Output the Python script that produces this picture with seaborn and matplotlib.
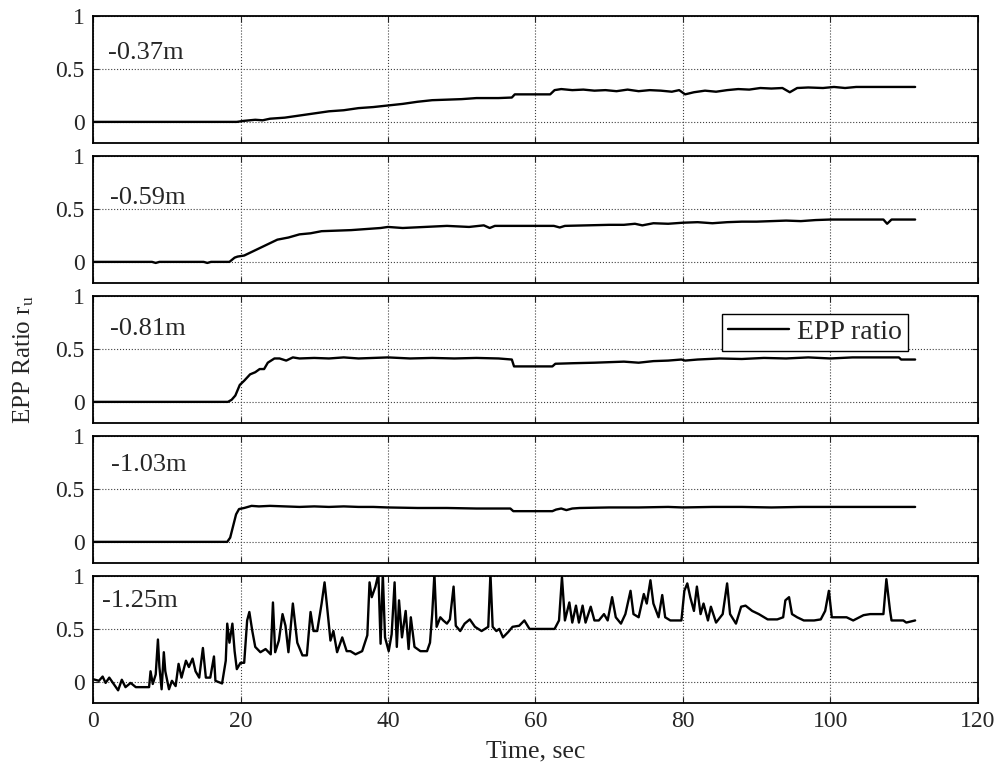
import matplotlib
matplotlib.use("Agg")
import matplotlib.pyplot as plt
import pandas as pd
import seaborn as sns

# ==========================================
# Data
# ==========================================

depths = ["-0.37m", "-0.59m", "-0.81m", "-1.03m", "-1.25m"]

time_037 = [0, 19.5, 20.5, 22, 23, 24, 26, 28, 30, 32,
            34, 36, 38, 40, 42, 44, 46, 48, 50, 52,
            55, 56.8, 57.2, 60, 62.0, 62.6, 63.5, 65, 66.5, 68,
            69.5, 71, 72.5, 74, 75.5, 77, 78.5, 79.5, 80.3, 81.5,
            83, 84.5, 86, 87.5, 89, 90.5, 92, 93.5, 94.5, 95.5,
            97, 99, 100.5, 102, 103.5, 105, 111.5]
epp_037 = [0, 0, 0.01, 0.02, 0.015, 0.03, 0.04, 0.06, 0.08, 0.10,
           0.11, 0.13, 0.14, 0.155, 0.17, 0.19, 0.205, 0.21, 0.215, 0.225,
           0.225, 0.23, 0.26, 0.26, 0.26, 0.30, 0.31, 0.30, 0.305, 0.295,
           0.30, 0.29, 0.305, 0.29, 0.30, 0.295, 0.285, 0.30, 0.26, 0.28,
           0.295, 0.285, 0.30, 0.31, 0.305, 0.32, 0.315, 0.32, 0.28, 0.32,
           0.325, 0.32, 0.33, 0.32, 0.33, 0.33, 0.33]

time_059 = [0, 8, 8.5, 9, 15, 15.5, 16, 18.5, 19.2, 19.6,
            20.5, 22, 23.5, 25, 26.5, 28, 29.5, 31, 33, 35,
            37, 39, 40, 42, 45, 48, 51, 53, 53.8, 54.5,
            58, 62.5, 63.3, 64, 67, 70, 72, 73.5, 74.5, 76,
            78, 80, 82, 84, 86, 88, 90, 92, 94, 96,
            98, 100, 103, 107.2, 107.7, 108.3, 111.5]
epp_059 = [0, 0, -0.01, 0, 0, -0.01, 0, 0, 0.04, 0.05,
           0.06, 0.11, 0.16, 0.21, 0.23, 0.26, 0.27, 0.29, 0.295, 0.30,
           0.31, 0.32, 0.33, 0.32, 0.33, 0.34, 0.33, 0.345, 0.32, 0.34,
           0.34, 0.34, 0.325, 0.34, 0.345, 0.35, 0.35, 0.36, 0.345, 0.365,
           0.36, 0.37, 0.375, 0.365, 0.375, 0.38, 0.38, 0.385, 0.39, 0.385,
           0.395, 0.40, 0.40, 0.40, 0.36, 0.40, 0.40]

time_081 = [0, 18.3, 18.8, 19.3, 19.9, 20.5, 21.3, 22.0, 22.6, 23.2,
            23.7, 24.6, 25.3, 26.2, 27.1, 28, 30, 32, 34, 36,
            38, 40, 43, 46, 49, 52, 55, 56.8, 57.1, 62.3,
            62.7, 65, 68, 70, 72, 74, 76, 78, 79.8, 80.3,
            82, 85, 88, 91, 94, 97, 100, 103, 106, 109.3,
            109.6, 111.5]
epp_081 = [0, 0, 0.02, 0.06, 0.16, 0.20, 0.26, 0.28, 0.31, 0.31,
           0.37, 0.41, 0.41, 0.39, 0.42, 0.41, 0.415, 0.41, 0.42, 0.41,
           0.415, 0.42, 0.41, 0.415, 0.41, 0.415, 0.41, 0.40, 0.335, 0.335,
           0.36, 0.365, 0.37, 0.375, 0.38, 0.37, 0.385, 0.39, 0.40, 0.39,
           0.40, 0.41, 0.405, 0.415, 0.41, 0.42, 0.41, 0.42, 0.42, 0.42,
           0.40, 0.40]

time_103 = [0, 18.2, 18.6, 19.0, 19.4, 19.8, 20.5, 21.5, 22.5, 24,
            26, 28, 30, 32, 34, 36, 38, 40, 44, 48,
            52, 56.6, 57.0, 62.3, 62.8, 63.5, 64.2, 65, 66, 70,
            74, 78, 80, 84, 88, 92, 96, 100, 104, 111.5]
epp_103 = [0, 0, 0.04, 0.15, 0.26, 0.31, 0.32, 0.34, 0.335, 0.34,
           0.335, 0.33, 0.335, 0.33, 0.335, 0.33, 0.33, 0.325, 0.32, 0.32,
           0.315, 0.315, 0.29, 0.29, 0.305, 0.315, 0.30, 0.315, 0.32, 0.325,
           0.325, 0.33, 0.325, 0.33, 0.33, 0.325, 0.33, 0.33, 0.33, 0.33]

time_125 = [0, 0.8, 1.3, 1.7, 2.2, 2.8, 3.4, 3.9, 4.4, 5.1,
            5.8, 7.6, 7.8, 8.1, 8.5, 8.8, 9.0, 9.3, 9.6, 9.8,
            10.3, 10.7, 11.2, 11.6, 12.0, 12.6, 13.0, 13.5, 13.9, 14.4,
            14.9, 15.3, 15.9, 16.4, 16.6, 17.5, 18.0, 18.2, 18.5, 18.9,
            19.2, 19.5, 20.0, 20.5, 20.9, 21.2, 21.6, 22.0, 22.7, 23.4,
            24.1, 24.4, 24.7, 25.2, 25.7, 26.1, 26.5, 27.1, 27.7, 28.4,
            29.0, 29.5, 29.9, 30.4, 31.0, 31.4, 31.7, 32.2, 32.6, 33.1,
            33.8, 34.4, 34.9, 35.6, 36.5, 37.2, 37.5, 37.8, 38.3, 38.7,
            39.0, 39.3, 39.6, 40.1, 40.5, 40.9, 41.2, 41.5, 41.9, 42.4,
            42.8, 43.1, 43.6, 44.4, 45.3, 45.7, 46.0, 46.3, 46.6, 47.1,
            47.5, 48.0, 48.4, 48.9, 49.2, 49.8, 50.4, 51.1, 51.8, 52.7,
            53.6, 53.9, 54.2, 54.7, 55.1, 55.6, 56.3, 56.9, 57.8, 58.5,
            59.2, 59.9, 62.6, 63.2, 63.6, 64.0, 64.6, 65.0, 65.5, 65.9,
            66.4, 66.8, 67.5, 68.0, 68.6, 69.3, 69.8, 70.4, 70.9, 71.6,
            72.2, 72.9, 73.3, 74.0, 74.7, 75.1, 75.6, 76.0, 76.7, 77.2,
            77.6, 78.3, 79.0, 79.8, 80.2, 80.6, 81.0, 81.5, 81.9, 82.4,
            82.8, 83.4, 83.8, 84.5, 85.4, 86.0, 86.4, 87.2, 87.9, 88.5,
            89.4, 90.3, 91.5, 92.8, 93.6, 93.9, 94.4, 94.8, 95.5, 96.4,
            97.8, 98.7, 99.3, 99.8, 100.2, 100.9, 102.2, 103.1, 104.5, 105.4,
            107.2, 107.6, 108.1, 108.3, 109.9, 110.3, 111.5]
epp_125 = [0.025, 0.01, 0.05, -0.01, 0.04, -0.02, -0.08, 0.02, -0.05, -0.01,
           -0.05, -0.05, 0.10, -0.02, 0.07, 0.40, 0.14, -0.07, 0.28, 0.10,
           -0.07, 0.01, -0.04, 0.17, 0.04, 0.20, 0.14, 0.22, 0.10, 0.04,
           0.32, 0.04, 0.04, 0.24, 0.01, -0.015, 0.20, 0.55, 0.37, 0.55,
           0.29, 0.12, 0.18, 0.18, 0.58, 0.66, 0.48, 0.33, 0.28, 0.31,
           0.26, 0.75, 0.28, 0.39, 0.64, 0.53, 0.28, 0.74, 0.37, 0.25,
           0.25, 0.66, 0.48, 0.48, 0.74, 0.94, 0.74, 0.39, 0.48, 0.28,
           0.42, 0.29, 0.29, 0.26, 0.29, 0.44, 0.94, 0.80, 0.90, 1.02,
           0.36, 1.02, 0.42, 0.29, 0.45, 0.94, 0.33, 0.77, 0.42, 0.67,
           0.31, 0.61, 0.33, 0.29, 0.29, 0.37, 0.64, 1.02, 0.52, 0.61,
           0.58, 0.55, 0.59, 0.90, 0.53, 0.48, 0.55, 0.59, 0.52, 0.48,
           0.52, 1.02, 0.52, 0.48, 0.50, 0.42, 0.47, 0.52, 0.53, 0.58,
           0.50, 0.50, 0.50, 0.58, 0.99, 0.58, 0.75, 0.56, 0.72, 0.56,
           0.72, 0.56, 0.71, 0.58, 0.58, 0.64, 0.58, 0.80, 0.61, 0.55,
           0.64, 0.86, 0.64, 0.61, 0.83, 0.74, 0.96, 0.74, 0.61, 0.82,
           0.61, 0.58, 0.58, 0.58, 0.86, 0.93, 0.80, 0.67, 0.90, 0.64,
           0.74, 0.58, 0.71, 0.56, 0.64, 0.93, 0.64, 0.55, 0.71, 0.72,
           0.67, 0.64, 0.59, 0.59, 0.61, 0.77, 0.80, 0.64, 0.61, 0.58,
           0.58, 0.59, 0.67, 0.86, 0.61, 0.61, 0.61, 0.58, 0.63, 0.64,
           0.64, 0.97, 0.67, 0.58, 0.58, 0.56, 0.58]

x_ticks = [0, 20, 40, 60, 80, 100, 120]
y_ticks = [0, 0.5, 1]
y_tick_labels = ["0", "0.5", "1"]

series = [
    (time_037, epp_037),
    (time_059, epp_059),
    (time_081, epp_081),
    (time_103, epp_103),
    (time_125, epp_125),
]

# ==========================================
# Style
# ==========================================

sns.set_style("ticks")
plt.rcParams["font.family"] = ["Liberation Serif", "DejaVu Serif"]
plt.rcParams["mathtext.fontset"] = "custom"
plt.rcParams["mathtext.rm"] = "Liberation Serif"
plt.rcParams["mathtext.it"] = "Liberation Serif:italic"

fig, axes = plt.subplots(5, 1, sharex=True, figsize=(10.07, 7.63), dpi=100)
fig.subplots_adjust(left=0.0924, right=0.971, top=0.979, bottom=0.0786, hspace=0.102)

label_pos = [(0.017, 0.71), (0.019, 0.67), (0.019, 0.74), (0.02, 0.77), (0.01, 0.80)]

for i, ax in enumerate(axes):
    t, v = series[i]
    df = pd.DataFrame({"Time": t, "EPP": v})
    sns.lineplot(
        data=df,
        x="Time",
        y="EPP",
        ax=ax,
        color="black",
        linewidth=1.7,
        estimator=None,
        sort=False,
        label="EPP ratio" if i == 2 else None,
        legend=False,
    )
    ax.set_xlim(0, 120)
    ax.set_ylim(-0.2, 1)
    ax.set_xticks(x_ticks)
    ax.set_yticks(y_ticks)
    ax.set_yticklabels(y_tick_labels)
    ax.grid(True, color="0.25", linestyle=":", linewidth=0.8)
    ax.tick_params(direction="in", top=True, right=True, length=4,
                   width=0.8, labelsize=17, pad=6)
    for sp in ax.spines.values():
        sp.set_visible(True)
        sp.set_linewidth(1.3)
        sp.set_color("black")
    ax.set_xlabel("")
    ax.set_ylabel("")
    ax.text(label_pos[i][0], label_pos[i][1], depths[i],
            transform=ax.transAxes, fontsize=19, va="center", ha="left")

leg = axes[2].legend(
    loc="upper left",
    bbox_to_anchor=(0.711, 0.857),
    fontsize=20,
    frameon=True,
    fancybox=False,
    framealpha=1,
    edgecolor="black",
    handlelength=2.2,
    borderpad=0.2,
    borderaxespad=0,
    handletextpad=0.3,
)
leg.get_frame().set_linewidth(1.0)

axes[-1].set_xlabel("Time, sec", fontsize=18.5, labelpad=6)
fig.text(24 / 1007, 1 - 360 / 763, r"EPP Ratio r$_\mathrm{u}$", rotation=90,
         va="center", ha="center", fontsize=18)

plt.savefig("out.png", dpi=100)
plt.close()
